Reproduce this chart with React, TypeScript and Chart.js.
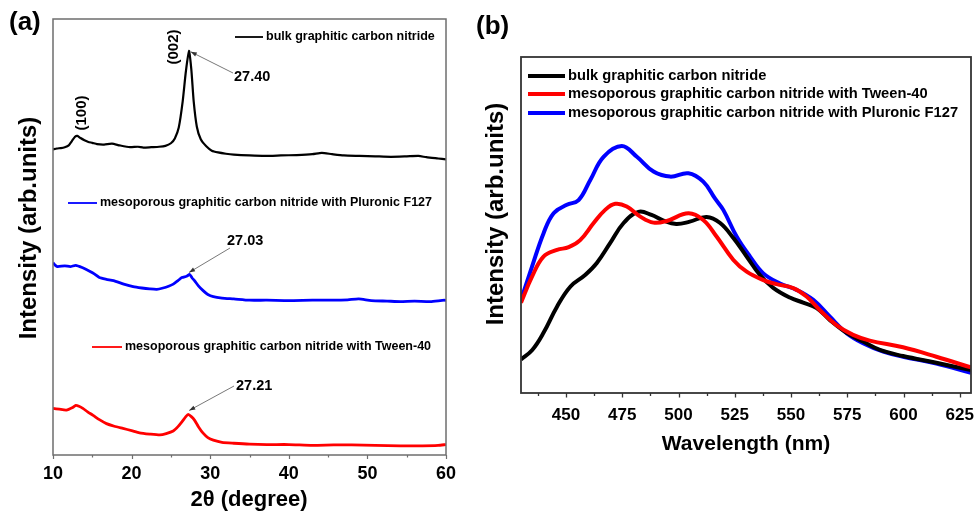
import React, { useEffect, useRef } from "react";
import { Chart, registerables } from "chart.js";

Chart.register(...registerables);

const FONT = "'Liberation Sans', Arial, sans-serif";

// ---------- Panel (a): XRD ----------
const XRD_BULK_2THETA = [10.0, 10.5, 11.0, 11.5, 12.0, 12.4, 12.8, 13.1, 13.5, 14.0, 14.5, 15.0, 15.6, 16.5, 17.5, 18.5, 19.8, 20.8, 21.5, 22.5, 23.5, 24.3, 25.0, 25.5, 26.0, 26.5, 26.9, 27.3, 27.6, 27.9, 28.3, 28.8, 29.5, 30.2, 31.0, 32.0, 33.0, 35.0, 37.0, 39.0, 41.0, 43.0, 44.2, 45.5, 47.0, 49.0, 51.0, 53.0, 55.0, 56.5, 57.5, 59.0, 60.0];
const XRD_BULK_I = [70.1, 70.3, 70.4, 70.6, 71.0, 72.0, 73.0, 73.2, 72.7, 72.2, 71.8, 71.6, 71.3, 71.2, 71.4, 71.0, 70.6, 70.7, 70.5, 70.6, 70.7, 70.9, 71.5, 72.6, 75.1, 81.1, 87.9, 92.7, 88.4, 81.1, 75.3, 72.4, 70.8, 69.8, 69.4, 69.1, 68.9, 68.7, 68.6, 68.7, 68.8, 69.0, 69.3, 69.0, 68.7, 68.6, 68.5, 68.4, 68.5, 68.6, 68.3, 68.0, 67.8];

const XRD_F127_2THETA = [10.0, 10.3, 10.6, 11.5, 12.2, 12.9, 13.7, 14.6, 15.3, 15.9, 16.8, 17.7, 19.0, 20.2, 21.3, 22.3, 23.2, 24.0, 24.7, 25.3, 25.9, 26.4, 27.0, 27.4, 27.7, 28.0, 28.5, 29.1, 29.7, 30.4, 31.5, 33.0, 35.0, 37.2, 40.0, 43.0, 45.7, 47.5, 48.9, 50.5, 52.5, 54.2, 56.0, 58.0, 59.8, 60.0];
const XRD_F127_I = [44.1, 43.5, 43.2, 43.4, 43.2, 43.5, 43.0, 42.2, 41.5, 40.7, 40.3, 40.0, 39.2, 38.6, 38.3, 38.1, 38.0, 38.3, 38.7, 39.2, 40.0, 40.7, 41.0, 41.4, 40.6, 40.0, 38.8, 37.7, 36.8, 36.3, 36.0, 35.8, 35.5, 35.5, 35.4, 35.5, 35.5, 35.6, 35.8, 35.4, 35.3, 35.2, 35.3, 35.2, 35.5, 35.4];

const XRD_TWEEN_2THETA = [10.0, 10.8, 11.7, 12.5, 12.9, 13.3, 13.8, 14.4, 15.1, 15.9, 16.8, 17.8, 18.9, 20.0, 21.0, 22.3, 23.6, 24.4, 25.3, 25.9, 26.4, 26.9, 27.2, 27.6, 28.0, 28.5, 29.1, 29.7, 30.4, 31.5, 33.0, 35.0, 37.2, 40.0, 43.0, 45.7, 48.0, 51.0, 54.2, 57.0, 59.0, 60.0];
const XRD_TWEEN_I = [10.7, 10.5, 10.3, 10.9, 11.4, 11.2, 10.7, 9.9, 9.1, 8.1, 7.2, 6.6, 6.1, 5.6, 5.1, 4.8, 4.6, 4.9, 5.5, 6.5, 7.6, 8.8, 9.3, 8.8, 8.0, 6.5, 5.0, 4.0, 3.4, 2.9, 2.7, 2.5, 2.4, 2.4, 2.2, 2.3, 2.3, 2.2, 2.1, 2.1, 2.2, 2.4];

const XRD_MAJOR_TICKS = [10, 20, 30, 40, 50, 60];
const XRD_MINOR_TICKS = [15, 25, 35, 45, 55];
const XRD_LEGEND = [
  "bulk graphitic carbon nitride",
  "mesoporous graphitic carbon nitride with Pluronic F127",
  "mesoporous graphitic carbon nitride with Tween-40",
];
const XRD_PEAK_LABELS = ["27.40", "27.03", "27.21"];
const XRD_PLANES = ["(100)", "(002)"];

// ---------- Panel (b): PL ----------
const PL_BULK_NM = [430, 435, 440, 446, 452, 458.5, 463.7, 469.6, 475.6, 482.2, 488, 493.3, 499, 505, 512.5, 518.5, 524.4, 530.3, 536.2, 542.1, 549.5, 555.4, 561.4, 567.3, 574.7, 582, 589.5, 599.8, 614.6, 630];
const PL_BULK_I = [10.0, 12.8, 17.9, 25.7, 31.7, 35.1, 38.7, 44.6, 50.6, 53.9, 53.0, 51.3, 50.3, 51.0, 52.4, 50.6, 46.1, 40.6, 35.1, 31.3, 28.4, 26.9, 25.3, 21.7, 17.9, 15.3, 12.8, 11.0, 9.0, 6.8];

const PL_TWEEN_NM = [430, 434.9, 440, 446, 451.2, 456.3, 462.2, 467.4, 471.9, 477, 483, 488.9, 494.8, 504.4, 511, 517, 524.4, 530.3, 537.7, 543.6, 551, 556.9, 562.8, 570.2, 577.6, 585, 599.8, 614.6, 630];
const PL_TWEEN_I = [26.9, 34.6, 40.6, 42.6, 43.4, 45.5, 50.5, 54.5, 56.3, 55.5, 52.5, 50.7, 51.2, 53.5, 51.5, 46.5, 39.6, 36.1, 33.6, 32.4, 31.2, 28.7, 24.7, 20.2, 17.3, 15.6, 13.6, 10.8, 7.6];

const PL_F127_NM = [430, 434.9, 440, 444.5, 450.4, 455.6, 460.8, 466.7, 474.8, 481.5, 488.9, 496.3, 504.4, 511, 516.2, 519.9, 525.9, 531.8, 537.7, 545.1, 552.5, 559.9, 567.3, 574.7, 582, 591, 599.8, 614.6, 630];
const PL_F127_I = [27.7, 37.6, 47.5, 53.5, 56.0, 57.4, 63.4, 70.3, 73.5, 70.3, 65.9, 64.4, 65.4, 62.9, 57.9, 54.5, 46.5, 40.6, 35.6, 32.6, 30.7, 27.7, 22.7, 17.8, 14.8, 12.3, 10.8, 8.8, 6.0];

const PL_MAJOR_TICKS = [450, 475, 500, 525, 550, 575, 600, 625];
const PL_MINOR_TICKS = [437.5, 462.5, 487.5, 512.5, 537.5, 562.5, 587.5, 612.5];
const PL_LEGEND = [
  "bulk graphitic carbon nitride",
  "mesoporous graphitic carbon nitride with Tween-40",
  "mesoporous graphitic carbon nitride with Pluronic F127",
];

const toXY = (xs: number[], ys: number[]) => xs.map((x, i) => ({ x, y: ys[i] }));

function text(ctx: CanvasRenderingContext2D, s: string, x: number, y: number, size: number, align: CanvasTextAlign = "left", rot = 0) {
  ctx.save();
  ctx.font = `bold ${size}px ${FONT}`;
  ctx.fillStyle = "#000";
  ctx.textAlign = align;
  ctx.textBaseline = "middle";
  ctx.translate(x, y);
  if (rot) ctx.rotate(rot);
  ctx.fillText(s, 0, 0);
  ctx.restore();
}

function arrow(ctx: CanvasRenderingContext2D, x1: number, y1: number, x2: number, y2: number) {
  ctx.save();
  ctx.strokeStyle = "#555";
  ctx.fillStyle = "#333";
  ctx.lineWidth = 0.8;
  ctx.beginPath();
  ctx.moveTo(x1, y1);
  ctx.lineTo(x2, y2);
  ctx.stroke();
  const a = Math.atan2(y2 - y1, x2 - x1);
  const L = 6, W = 2.2;
  ctx.beginPath();
  ctx.moveTo(x2, y2);
  ctx.lineTo(x2 - L * Math.cos(a) + W * Math.sin(a), y2 - L * Math.sin(a) - W * Math.cos(a));
  ctx.lineTo(x2 - L * Math.cos(a) - W * Math.sin(a), y2 - L * Math.sin(a) + W * Math.cos(a));
  ctx.closePath();
  ctx.fill();
  ctx.restore();
}

function drawTicks(chart: any, major: number[], minor: number[], majLen: number, minLen: number, color: string, width: number) {
  const ctx = chart.ctx as CanvasRenderingContext2D;
  const xs = chart.scales.x;
  const b = chart.chartArea.bottom;
  ctx.save();
  ctx.strokeStyle = color;
  ctx.lineWidth = width;
  ctx.beginPath();
  major.forEach((v) => {
    const px = Math.round(xs.getPixelForValue(v)) + 0.5;
    ctx.moveTo(px, b);
    ctx.lineTo(px, b + majLen);
  });
  minor.forEach((v) => {
    const px = Math.round(xs.getPixelForValue(v)) + 0.5;
    ctx.moveTo(px, b);
    ctx.lineTo(px, b + minLen);
  });
  ctx.stroke();
  ctx.restore();
}

function frame(chart: any, color: string, width: number) {
  const ctx = chart.ctx as CanvasRenderingContext2D;
  const { left, right, top, bottom } = chart.chartArea;
  ctx.save();
  ctx.strokeStyle = color;
  ctx.lineWidth = width;
  ctx.strokeRect(left, top, right - left, bottom - top);
  ctx.restore();
}

function legendLine(ctx: CanvasRenderingContext2D, x1: number, x2: number, y: number, color: string, w: number) {
  ctx.save();
  ctx.strokeStyle = color;
  ctx.lineWidth = w;
  ctx.beginPath();
  ctx.moveTo(x1, y);
  ctx.lineTo(x2, y);
  ctx.stroke();
  ctx.restore();
}

const xrdPlugin = {
  id: "xrdDecor",
  afterDraw(chart: any) {
    const ctx = chart.ctx as CanvasRenderingContext2D;
    frame(chart, "#6e6e6e", 1.5);
    drawTicks(chart, XRD_MAJOR_TICKS, XRD_MINOR_TICKS, 4, 2.5, "#6e6e6e", 1.2);
    // legends
    legendLine(ctx, 235, 263, 37, "#000", 1.8);
    text(ctx, XRD_LEGEND[0], 266, 37, 12.5);
    legendLine(ctx, 68, 97, 203, "#0000ff", 1.8);
    text(ctx, XRD_LEGEND[1], 100, 203, 12.5);
    legendLine(ctx, 92, 122, 347, "#ff0000", 1.8);
    text(ctx, XRD_LEGEND[2], 125, 347, 12.5);
    // plane labels
    text(ctx, XRD_PLANES[0], 82, 113, 15, "center", -Math.PI / 2);
    text(ctx, XRD_PLANES[1], 174, 47, 15, "center", -Math.PI / 2);
    // peak labels & arrows
    const xs = chart.scales.x, ys = chart.scales.y;
    text(ctx, XRD_PEAK_LABELS[0], 234, 77, 14.5);
    arrow(ctx, 233, 73, xs.getPixelForValue(27.4) + 1, ys.getPixelForValue(92.7) + 1);
    text(ctx, XRD_PEAK_LABELS[1], 227, 241, 14.5);
    arrow(ctx, 230, 248, xs.getPixelForValue(27.3), ys.getPixelForValue(41.4) - 2);
    text(ctx, XRD_PEAK_LABELS[2], 236, 386, 14.5);
    arrow(ctx, 234, 386, xs.getPixelForValue(27.2) + 1, ys.getPixelForValue(9.3) - 4);
    // panel label & axis titles
    text(ctx, "(a)", 9, 23, 26);
    text(ctx, "Intensity (arb.units)", 29, 228, 24, "center", -Math.PI / 2);
    text(ctx, "2\u03b8 (degree)", 249, 500, 22, "center");
  },
};

const plPlugin = {
  id: "plDecor",
  afterDraw(chart: any) {
    const ctx = chart.ctx as CanvasRenderingContext2D;
    frame(chart, "#333", 1.8);
    drawTicks(chart, PL_MAJOR_TICKS, PL_MINOR_TICKS, 4.5, 3, "#333", 1.3);
    const colors = ["#000000", "#ff0000", "#0000ff"];
    const ys = [76, 94, 113];
    PL_LEGEND.forEach((s, i) => {
      legendLine(ctx, 58, 95, ys[i], colors[i], 4);
      text(ctx, s, 98, ys[i], 14.7);
    });
    text(ctx, "(b)", 6, 27, 26);
    text(ctx, "Intensity (arb.units)", 26, 214, 24, "center", -Math.PI / 2);
    text(ctx, "Wavelength (nm)", 276, 444, 21, "center");
  },
};

function XrdChart() {
  const ref = useRef<HTMLCanvasElement | null>(null);
  useEffect(() => {
    if (!ref.current) return;
    const chart = new Chart(ref.current, {
      type: "line",
      data: {
        datasets: [
          { label: XRD_LEGEND[0], data: toXY(XRD_BULK_2THETA, XRD_BULK_I), borderColor: "#000", borderWidth: 2.2, pointRadius: 0, tension: 0.2 },
          { label: XRD_LEGEND[1], data: toXY(XRD_F127_2THETA, XRD_F127_I), borderColor: "#0000ff", borderWidth: 2.8, pointRadius: 0, tension: 0.2 },
          { label: XRD_LEGEND[2], data: toXY(XRD_TWEEN_2THETA, XRD_TWEEN_I), borderColor: "#ff0000", borderWidth: 2.8, pointRadius: 0, tension: 0.2 },
        ],
      },
      options: {
        responsive: false,
        animation: false,
        devicePixelRatio: 1,
        layout: { padding: { left: 0, top: 19, right: 24, bottom: 0 } },
        plugins: { legend: { display: false }, tooltip: { enabled: false } },
        scales: {
          x: {
            type: "linear",
            min: 10,
            max: 60,
            afterBuildTicks: (s: any) => { s.ticks = XRD_MAJOR_TICKS.map((v) => ({ value: v })); },
            afterFit: (s: any) => { s.height = 56; s.paddingLeft = 0; s.paddingRight = 0; },
            grid: { display: false, drawTicks: false },
            border: { display: false },
            ticks: { color: "#000", padding: 8, font: { family: FONT, size: 18, weight: "bold" }, maxRotation: 0 },
          },
          y: {
            type: "linear",
            min: 0,
            max: 100,
            afterFit: (s: any) => { s.width = 53; },
            grid: { display: false, drawTicks: false },
            border: { display: false },
            ticks: { display: false },
          },
        },
      } as any,
      plugins: [xrdPlugin],
    });
    return () => chart.destroy();
  }, []);
  return <canvas ref={ref} width={470} height={511} style={{ display: "block" }} />;
}

function PlChart() {
  const ref = useRef<HTMLCanvasElement | null>(null);
  useEffect(() => {
    if (!ref.current) return;
    const chart = new Chart(ref.current, {
      type: "line",
      data: {
        datasets: [
          { label: PL_LEGEND[1], data: toXY(PL_TWEEN_NM, PL_TWEEN_I), borderColor: "#ff0000", borderWidth: 4, pointRadius: 0, tension: 0.4, order: 0 },
          { label: PL_LEGEND[0], data: toXY(PL_BULK_NM, PL_BULK_I), borderColor: "#000000", borderWidth: 4, pointRadius: 0, tension: 0.4, order: 1 },
          { label: PL_LEGEND[2], data: toXY(PL_F127_NM, PL_F127_I), borderColor: "#0000ff", borderWidth: 4, pointRadius: 0, tension: 0.4, order: 2 },
        ],
      },
      options: {
        responsive: false,
        animation: false,
        devicePixelRatio: 1,
        layout: { padding: { left: 0, top: 57, right: 5, bottom: 0 } },
        plugins: { legend: { display: false }, tooltip: { enabled: false } },
        scales: {
          x: {
            type: "linear",
            min: 430,
            max: 630,
            afterBuildTicks: (s: any) => { s.ticks = PL_MAJOR_TICKS.map((v) => ({ value: v })); },
            afterFit: (s: any) => { s.height = 118; s.paddingLeft = 0; s.paddingRight = 0; },
            grid: { display: false, drawTicks: false },
            border: { display: false },
            ticks: { color: "#000", padding: 12, font: { family: FONT, size: 17, weight: "bold" }, maxRotation: 0 },
          },
          y: {
            type: "linear",
            min: 0,
            max: 100,
            afterFit: (s: any) => { s.width = 51; },
            grid: { display: false, drawTicks: false },
            border: { display: false },
            ticks: { display: false },
          },
        },
      } as any,
      plugins: [plPlugin],
    });
    return () => chart.destroy();
  }, []);
  return <canvas ref={ref} width={506} height={511} style={{ display: "block" }} />;
}

export default function App() {
  return (
    <div style={{ position: "absolute", left: 0, top: 0, width: 976, height: 511, background: "#fff", overflow: "hidden" }}>
      <div style={{ position: "absolute", left: 0, top: 0, width: 470, height: 511 }}>
        <XrdChart />
      </div>
      <div style={{ position: "absolute", left: 470, top: 0, width: 506, height: 511 }}>
        <PlChart />
      </div>
    </div>
  );
}
